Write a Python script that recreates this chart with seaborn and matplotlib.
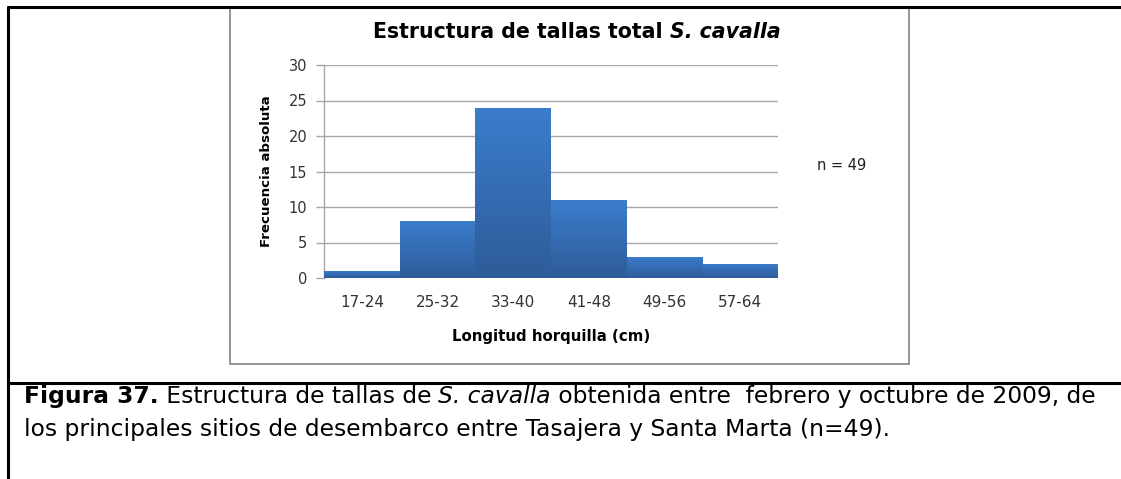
import numpy as np
import pandas as pd
import matplotlib
matplotlib.use("Agg")
import matplotlib.pyplot as plt
from matplotlib.lines import Line2D
from matplotlib.patches import Rectangle
from matplotlib.colors import LinearSegmentedColormap
import seaborn as sns

# Size classes (fork length, cm) and absolute frequencies
clases = ["17-24", "25-32", "33-40", "41-48", "49-56", "57-64"]
frecuencia = [1, 8, 24, 11, 3, 2]
y_ticks = [0, 5, 10, 15, 20, 25, 30]
n_total = 49

W, H = 1121, 479
sns.set_theme(style="white")
plt.rcParams["font.family"] = ["DejaVu Sans"]

fig = plt.figure(figsize=(W / 100, H / 100), dpi=100)
fig.patch.set_facecolor("white")
renderer = fig.canvas.get_renderer()


def fx(x):
    return x / W


def fy(y):
    return 1 - y / H


# Plot area
left, right, top, bottom = 324, 778, 65, 278
ax = fig.add_axes([fx(left), fy(bottom), (right - left) / W, (bottom - top) / H])

df = pd.DataFrame({"clase": clases, "frecuencia": frecuencia})
sns.barplot(data=df, x="clase", y="frecuencia", order=clases, width=1.0,
            color="#3871bb", saturation=1, linewidth=0, ax=ax, zorder=3)

# Vertical gradient fill for each bar
cmap = LinearSegmentedColormap.from_list("barra", ["#2e5c99", "#3b7dcc"])
grad = np.linspace(0, 1, 256).reshape(-1, 1)
for p in ax.patches:
    x0, w, h = p.get_x(), p.get_width(), p.get_height()
    im = ax.imshow(grad, cmap=cmap, extent=[x0, x0 + w, 0, h], origin="lower",
                   aspect="auto", zorder=4)
    im.set_clip_path(p)

ax.set_xlim(-0.5, len(clases) - 0.5)
ax.set_ylim(0, 30)
ax.set_yticks(y_ticks)
ax.set_yticklabels([str(v) for v in y_ticks])
ax.grid(axis="y", color="#a6a6a6", linewidth=1.0, zorder=0)
ax.grid(axis="x", visible=False)
ax.set_axisbelow(True)
for s in ["top", "right", "bottom"]:
    ax.spines[s].set_visible(False)
ax.spines["left"].set_color("#a6a6a6")
ax.spines["left"].set_linewidth(1.0)
ax.tick_params(axis="y", direction="out", length=6, width=1.0, color="#a6a6a6",
               labelsize=10.5, labelcolor="#333333", pad=6, left=True)
ax.tick_params(axis="x", length=0, labelsize=11, labelcolor="#333333", pad=12)
ax.set_xlabel("")
ax.set_ylabel("")

# Axis titles
fig.text(fx(551), fy(336), "Longitud horquilla (cm)", ha="center", va="center",
         fontsize=10.8, fontweight="bold", color="black")
fig.text(fx(267), fy(171), "Frecuencia absoluta", ha="center", va="center",
         rotation=90, fontsize=9.6, fontweight="bold", color="black")

# Chart title with italic species name
t1 = fig.text(0, fy(32), "Estructura de tallas total ", ha="left", va="center",
              fontsize=14.8, fontweight="bold", color="black")
t2 = fig.text(0, fy(32), "S. cavalla", ha="left", va="center", fontsize=14.8,
              fontweight="bold", fontstyle="italic", color="black")
w1 = t1.get_window_extent(renderer).width
w2 = t2.get_window_extent(renderer).width
start = 577 - (w1 + w2) / 2
t1.set_x(fx(start))
t2.set_x(fx(start + w1))

fig.text(fx(842), fy(165), f"n = {n_total}", ha="center", va="center",
         fontsize=10.5, color="#222222")

# Chart frame
fig.add_artist(Rectangle((fx(230), fy(364)), (909 - 230) / W, (364 - 8) / H,
                         transform=fig.transFigure, fill=False,
                         edgecolor="#8c8c8c", linewidth=1.3))

# Page frame and separator
for (xa, ya, xb, yb) in [(8, 7, W, 7), (8, 7, 8, H), (8, 383, W, 383)]:
    fig.add_artist(Line2D([fx(xa), fx(xb)], [fy(ya), fy(yb)],
                          transform=fig.transFigure, color="black", linewidth=2.2))

# Caption made of styled segments placed one after another
line1 = [("Figura 37.", "bold", "normal"),
         (" Estructura de tallas de ", "normal", "normal"),
         ("S. cavalla", "normal", "italic"),
         (" obtenida entre  febrero y octubre de 2009, de", "normal", "normal")]
line2 = [("los principales sitios de desembarco entre Tasajera y Santa Marta (n=49).",
          "normal", "normal")]


def place(segments, x_start, y_base, size):
    items = []
    for txt, weight, style in segments:
        t = fig.text(0, fy(y_base), txt, ha="left", va="baseline", fontsize=size,
                     fontweight=weight, fontstyle=style, color="black")
        items.append(t)
    widths = [t.get_window_extent(renderer).width for t in items]
    x = x_start
    for t, w in zip(items, widths):
        t.set_x(fx(x))
        x += w
    return items, x - x_start


# First line runs from the left margin to the right margin
probe, wprobe = place(line1, 24, 403, 14.0)
for t in probe:
    t.remove()
cap_size = 14.0 * (1100 - 24) / wprobe
place(line1, 24, 403, cap_size)
place(line2, 24, 436, cap_size)

fig.savefig("out.png", dpi=100, facecolor="white")
